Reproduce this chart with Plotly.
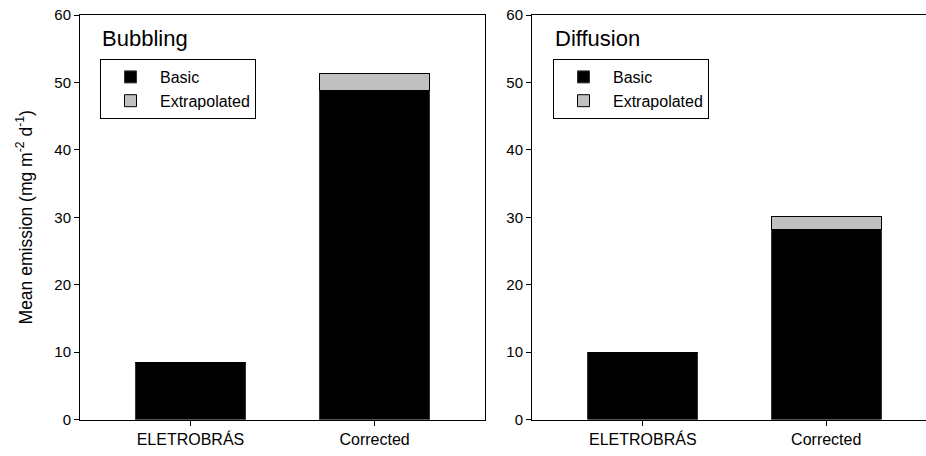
import plotly.graph_objects as go

categories = ["ELETROBRÁS", "Corrected"]
bubbling_basic = [8.45, 48.75]
bubbling_extrap = [0.0, 2.6]
diffusion_basic = [10.0, 28.2]
diffusion_extrap = [0.0, 1.85]
y_ticks = [0, 10, 20, 30, 40, 50, 60]

BASIC_COLOR = "black"
EXTRAP_COLOR = "#c0c0c0"
FONT = "Liberation Sans, Arial, sans-serif"

fig = go.Figure()

def add_panel(basic, extrap, xa, ya, legend):
    fig.add_trace(go.Bar(x=categories, y=basic, name="Basic", width=0.6,
                         marker=dict(color=BASIC_COLOR, line=dict(color="#333333", width=1)),
                         xaxis=xa, yaxis=ya, legend=legend))
    fig.add_trace(go.Bar(x=categories, y=extrap, name="Extrapolated", width=0.6,
                         marker=dict(color=EXTRAP_COLOR, line=dict(color="black", width=1)),
                         xaxis=xa, yaxis=ya, legend=legend))

add_panel(bubbling_basic, bubbling_extrap, "x", "y", "legend")
add_panel(diffusion_basic, diffusion_extrap, "x2", "y2", "legend2")

W, H = 926, 456


def px_x(v):
    return v / W


def px_y(v):
    return 1 - v / H


ydom = [px_y(419.5), px_y(15)]

axis_common = dict(showline=True, linecolor="black", linewidth=1, ticks="outside",
                   ticklen=5, tickcolor="black", showgrid=False, zeroline=False,
                   automargin=False, ticklabeloverflow="allow")
xtick = dict(family=FONT, size=16, color="black")
ytick = dict(family=FONT, size=15, color="black")

legend_common = dict(xanchor="left", yanchor="top", bordercolor="black", borderwidth=1,
                     bgcolor="white", font=dict(family=FONT, size=16, color="black"),
                     traceorder="normal", itemwidth=49, tracegroupgap=0)

fig.update_layout(
    template="none",
    width=W, height=H, barmode="stack", bargap=0.4,
    paper_bgcolor="white", plot_bgcolor="white",
    margin=dict(l=0, r=0, t=0, b=0, pad=0),
    font=dict(family=FONT, size=15, color="black"),
    xaxis=dict(domain=[px_x(80), px_x(485)], range=[-0.6, 1.6], mirror=True,
               tickfont=xtick, **axis_common),
    yaxis=dict(domain=ydom, range=[0, 60], tickvals=y_ticks, mirror=True, tickfont=ytick,
               title=dict(text="Mean emission (mg m<sup>-2</sup> d<sup>-1</sup>)",
                          font=dict(family=FONT, size=17.5), standoff=17),
               **axis_common),
    xaxis2=dict(domain=[px_x(532), 1.0], range=[-0.604, 1.544], mirror=True, anchor="y2",
                tickfont=xtick, **axis_common),
    yaxis2=dict(domain=ydom, range=[0, 60], tickvals=y_ticks, anchor="x2", mirror=False,
                tickfont=ytick, **axis_common),
    legend=dict(x=px_x(100), y=px_y(59), **legend_common),
    legend2=dict(x=px_x(553), y=px_y(59), **legend_common),
    annotations=[
        dict(text="Bubbling", x=px_x(100), y=px_y(38), xref="paper", yref="paper",
             xanchor="left", yanchor="middle", showarrow=False,
             font=dict(family=FONT, size=22)),
        dict(text="Diffusion", x=px_x(553), y=px_y(38), xref="paper", yref="paper",
             xanchor="left", yanchor="middle", showarrow=False,
             font=dict(family=FONT, size=22)),
    ],
)

# remove the page's default body margin so the 926x456 figure fills the window exactly
fig.write_html("out.html",
               config=dict(displayModeBar=False),
               post_script="document.body.style.margin='0';document.body.style.overflow='hidden';")
